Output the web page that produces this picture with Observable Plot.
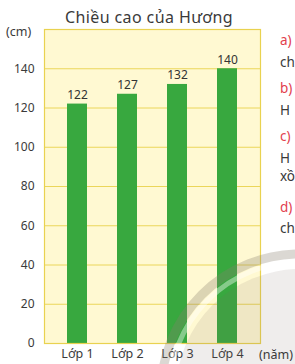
<!DOCTYPE html>
<html>
<head>
<meta charset="utf-8">
<script src="https://cdn.jsdelivr.net/npm/d3@7"></script>
<script src="https://cdn.jsdelivr.net/npm/@observablehq/plot@0.6"></script>
<style>
  html, body { margin: 0; padding: 0; background: #fff; overflow: hidden; }
  #wrap { position: relative; width: 295px; height: 364px; overflow: hidden; font-family: "Noto Sans", sans-serif; }
  .lbl { position: absolute; white-space: nowrap; color: #3a3a3a; }
  .red { color: #e2404e; }
  #deco { position: absolute; left: 0; top: 0; pointer-events: none; }
</style>
</head>
<body>
<div id="wrap"></div>
<script>
const title = "Chiều cao của Hương";
const yUnit = "(cm)";
const xUnit = "(năm)";
const grades = ["Lớp 1", "Lớp 2", "Lớp 3", "Lớp 4"];
const heights = [122, 127, 132, 140];
const yTicks = [0, 20, 40, 60, 80, 100, 120, 140];
const gridLines = [20, 40, 60, 80, 100, 120, 140];
const sideTexts = [["a)", "red"], ["ch", ""], ["b)", "red"], ["H", ""], ["c)", "red"], ["H", ""], ["xồ", ""], ["d)", "red"], ["ch", ""]];

const data = grades.map((g, i) => ({grade: g, h: heights[i]}));

const chart = Plot.plot({
  width: 295,
  height: 364,
  marginLeft: 44,
  marginRight: 35,
  marginTop: 29,
  marginBottom: 21,
  style: {fontFamily: "Noto Sans, sans-serif", fontSize: "12px", color: "#3a3a3a", background: "transparent"},
  x: {domain: grades, paddingInner: 0.6, paddingOuter: 0.45, label: null},
  y: {domain: [0, 160], label: null},
  marks: [
    Plot.frame({fill: "#fff9d2", stroke: "none"}),
    Plot.ruleY(gridLines, {stroke: "#ebd65a", strokeWidth: 1}),
    Plot.barY(data, {x: "grade", y: "h", fill: "#38a83f"}),
    Plot.frame({stroke: "#e9d250", strokeWidth: 1.2}),
    Plot.text(data, {x: "grade", y: "h", text: d => String(d.h), dy: -9, fill: "#333", fontSize: 12}),
    Plot.axisY(yTicks, {tickSize: 0, tickPadding: 10, label: null, fill: "#3a3a3a", fontSize: 12}),
    Plot.axisX({tickSize: 0, tickPadding: 6, label: null, fill: "#3a3a3a", fontSize: 12.5})
  ]
});

const wrap = document.getElementById("wrap");
wrap.appendChild(chart);
chart.style.position = "absolute";
chart.style.left = "0px";
chart.style.top = "0px";

// decorative watermark circle seen in the bottom-right of the reference
const ns = "http://www.w3.org/2000/svg";
const deco = document.createElementNS(ns, "svg");
deco.setAttribute("id", "deco");
deco.setAttribute("width", 295);
deco.setAttribute("height", 364);
function circ(r, fill, stroke, sw) {
  const c = document.createElementNS(ns, "circle");
  c.setAttribute("cx", 300); c.setAttribute("cy", 393); c.setAttribute("r", r);
  c.setAttribute("fill", fill); c.setAttribute("stroke", stroke); c.setAttribute("stroke-width", sw);
  deco.appendChild(c);
}
circ(124, "rgba(120,110,95,0.12)", "none", 0);
circ(139, "none", "rgba(135,125,110,0.3)", 9);
circ(131, "none", "rgba(255,255,255,0.4)", 5);
wrap.appendChild(deco);

function addLabel(text, x, y, size, cls) {
  const d = document.createElement("div");
  d.className = "lbl" + (cls ? " " + cls : "");
  d.textContent = text;
  d.style.left = x + "px";
  d.style.top = y + "px";
  d.style.fontSize = size + "px";
  d.style.lineHeight = "1";
  wrap.appendChild(d);
  return d;
}
const t = addLabel(title, 0, 9, 16);
t.style.width = "298px";
t.style.textAlign = "center";
t.style.left = "0px";
t.style.letterSpacing = "0.4px";
addLabel(yUnit, 6, 26, 12.5);
addLabel(xUnit, 259, 349, 12.5);

const sideY = [34, 56, 82, 104, 130, 152, 170, 201, 222];
sideTexts.forEach(([s, c], i) => addLabel(s, 280, sideY[i], 13.5, c));
</script>
</body>
</html>
